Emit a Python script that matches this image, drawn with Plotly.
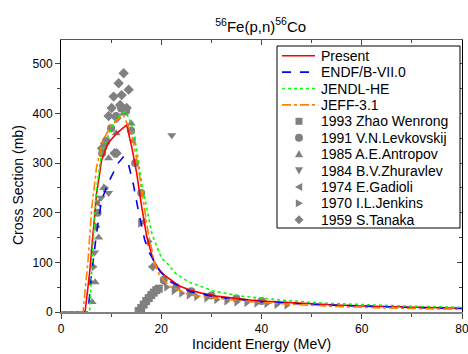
import plotly.graph_objects as go

# ---- evaluated curves ----
present_e = [0, 4.8, 5.7, 6.4, 7.1, 8.1, 9.4, 11.1, 13.1, 14.1, 15.1, 16.1, 17.1, 18.4, 19.4, 20.5, 21.8, 23.5, 25.8, 28, 31, 34, 37.8, 40, 45, 50, 55, 60, 70, 80]
present_s = [0, 0, 78, 159, 239, 306, 340, 360, 377, 333, 280, 212, 152, 105, 88, 75, 65, 53, 44, 38, 32, 28, 24, 22, 19, 16, 14, 12, 9.5, 7.5]

endf_e = [0, 5.4, 6.1, 7.1, 8.1, 9.7, 11.4, 12.4, 13.4, 14.4, 15.4, 16.7, 17.7, 19.8, 22, 25.8, 31, 38, 40, 50, 60, 70, 80]
endf_s = [0, 0, 78, 159, 226, 266, 300, 312, 300, 259, 206, 145, 118, 81, 60, 41, 30, 22, 21, 15, 11.5, 9, 7]

jendl_e = [0, 5.7, 6.3, 7.1, 8.1, 9.4, 10.8, 12.1, 12.8, 13.6, 14.4, 15.1, 16.1, 17.1, 18.1, 19.1, 20.1, 21.5, 22.6, 24.3, 25.8, 27.5, 30.5, 33.8, 36.8, 40, 45, 53, 60, 70, 80]
jendl_s = [0, 0, 120, 250, 320, 355, 385, 400, 404, 390, 367, 327, 259, 206, 159, 132, 108, 95, 80, 68, 59, 53, 42, 36, 31, 28, 23, 17.5, 14.5, 11.5, 9.5]

jeff_e = [0, 4.4, 5.4, 6.1, 7.1, 8.4, 10.1, 12.4, 14.1, 15.4, 16.4, 17.4, 18.7, 19.8, 21.8, 25.8, 31, 37.8, 45, 55, 65, 80]
jeff_s = [0, 0, 105, 206, 293, 347, 377, 397, 360, 293, 226, 159, 98, 71, 51, 34, 27.6, 21, 16, 11, 8, 5.4]

# ---- experimental data ----
zhao_e = [15.5, 16.0, 16.5, 17.0, 17.5, 18.0, 18.5, 19.0, 19.5]
zhao_s = [2, 8, 15, 22, 28, 34, 39, 44, 47]

levk_e = [7.3, 8.2, 9.0, 10.0, 11.0, 12.0, 13.0, 14.0, 14.8, 16.0, 20.5, 23, 26, 30, 35, 40]
levk_s = [200, 320, 345, 370, 395, 410, 405, 365, 300, 240, 65, 50, 42, 33, 27, 22]

antr_e = [6.2, 6.8, 7.5, 8.5, 9.5, 11.0, 12.5, 14.0]
antr_s = [20, 60, 150, 250, 310, 360, 400, 380]

zhur_e = [6.7, 8.0, 9.5, 22.1]
zhur_s = [120, 230, 240, 356]

gad_e = [7.4, 14.5, 16.5, 18.1, 20.5]
gad_s = [220, 345, 182, 91, 60]

jenk_e = [5.8, 6.5, 7.1, 8.8, 15.8, 17.5, 18.5, 21, 22.5, 24, 25.5, 27, 29, 31, 33, 35, 37, 39, 41, 43, 45]
jenk_s = [61, 91, 172, 250, 179, 142, 91, 50, 43, 38, 34, 31, 28, 25, 22, 20, 19, 18, 17, 15, 14]

tanaka_e = [12.5, 11.5, 13.5, 10.5, 12.1, 10.1, 11.8, 13.1, 11.1, 8.8, 11.1, 9.5, 8.2, 10.7]
tanaka_s = [481, 461, 448, 434, 437, 411, 417, 411, 391, 340, 320, 395, 330, 320]

x_ticks = [0, 20, 40, 60, 80]
y_ticks = [0, 100, 200, 300, 400, 500]

GRAY = "#808080"
lines = [
    ("Present", present_e, present_s, "#ff0000", "solid"),
    ("ENDF/B-VII.0", endf_e, endf_s, "#0000ff", "dash"),
    ("JENDL-HE", jendl_e, jendl_s, "#00ff00", "dot"),
    ("JEFF-3.1", jeff_e, jeff_s, "#ff8000", "dashdot"),
]
exp = [
    ("1993 Zhao Wenrong", zhao_e, zhao_s, "square"),
    ("1991 V.N.Levkovskij", levk_e, levk_s, "circle"),
    ("1985 A.E.Antropov", antr_e, antr_s, "triangle-up"),
    ("1984 B.V.Zhuravlev", zhur_e, zhur_s, "triangle-down"),
    ("1974 E.Gadioli", gad_e, gad_s, "triangle-left"),
    ("1970 I.L.Jenkins", jenk_e, jenk_s, "triangle-right"),
    ("1959 S.Tanaka", tanaka_e, tanaka_s, "diamond"),
]

fig = go.Figure()
for name, e, s, sym in exp:
    fig.add_trace(go.Scatter(x=e, y=s, mode="markers", name=name, showlegend=False,
                             marker=dict(symbol=sym, size=8, color=GRAY)))
for name, e, s, col, dash in lines:
    fig.add_trace(go.Scatter(x=e, y=s, mode="lines", name=name, showlegend=False,
                             line=dict(color=col, dash=dash, width=1.6)))

# dummy trace for mirrored axes
fig.add_trace(go.Scatter(x=[0], y=[0], xaxis="x2", yaxis="y2", mode="markers",
                         marker=dict(opacity=0), showlegend=False, hoverinfo="skip"))

# ---- hand-built legend (compact spacing like the original) ----
PL, PR, PT, PB = 61, 462, 40, 312
def fx(px):
    return (px - PL) / (PR - PL)
def fy(py):
    return (PB - py) / (PB - PT)

shapes = [dict(type="rect", xref="paper", yref="paper", x0=fx(277), x1=fx(460),
               y0=fy(228), y1=fy(46), line=dict(color="black", width=1),
               fillcolor="white", layer="above")]
annotations = []
row0, rowh = 55.7, 16.4
lx0, lx1, mx, tx = 282, 315, 299, 319
r = 4.0
LFONT = 14

def tri_path(cx, cy, d):
    if d == "up":
        pts = [(cx, cy - r), (cx - r, cy + r * 0.8), (cx + r, cy + r * 0.8)]
    elif d == "down":
        pts = [(cx, cy + r), (cx - r, cy - r * 0.8), (cx + r, cy - r * 0.8)]
    elif d == "left":
        pts = [(cx - r, cy), (cx + r * 0.8, cy - r), (cx + r * 0.8, cy + r)]
    else:
        pts = [(cx + r, cy), (cx - r * 0.8, cy - r), (cx - r * 0.8, cy + r)]
    return "M " + " L ".join(f"{fx(a)},{fy(b)}" for a, b in pts) + " Z"

row = 0
for name, _, _, col, dash in lines:
    yc = row0 + row * rowh
    shapes.append(dict(type="line", xref="paper", yref="paper", x0=fx(lx0), x1=fx(lx1),
                       y0=fy(yc), y1=fy(yc), line=dict(color=col, dash=dash, width=1.6),
                       layer="above"))
    annotations.append(dict(text=name, xref="paper", yref="paper", x=fx(tx), y=fy(yc),
                            xanchor="left", yanchor="middle", showarrow=False,
                            font=dict(size=LFONT)))
    row += 1
for name, _, _, sym in exp:
    yc = row0 + row * rowh
    if sym == "square":
        shapes.append(dict(type="rect", xref="paper", yref="paper", x0=fx(mx - 3.5), x1=fx(mx + 3.5),
                           y0=fy(yc + 3.5), y1=fy(yc - 3.5), fillcolor=GRAY, line=dict(width=0), layer="above"))
    elif sym == "circle":
        shapes.append(dict(type="circle", xref="paper", yref="paper", x0=fx(mx - 4), x1=fx(mx + 4),
                           y0=fy(yc + 4), y1=fy(yc - 4), fillcolor=GRAY, line=dict(width=0), layer="above"))
    elif sym == "diamond":
        p = f"M {fx(mx)},{fy(yc - 4.5)} L {fx(mx + 4.5)},{fy(yc)} L {fx(mx)},{fy(yc + 4.5)} L {fx(mx - 4.5)},{fy(yc)} Z"
        shapes.append(dict(type="path", xref="paper", yref="paper", path=p, fillcolor=GRAY,
                           line=dict(width=0), layer="above"))
    else:
        d = sym.split("-")[1]
        shapes.append(dict(type="path", xref="paper", yref="paper", path=tri_path(mx, yc, d),
                           fillcolor=GRAY, line=dict(width=0), layer="above"))
    annotations.append(dict(text=name, xref="paper", yref="paper", x=fx(tx), y=fy(yc),
                            xanchor="left", yanchor="middle", showarrow=False,
                            font=dict(size=LFONT)))
    row += 1

# axis titles as annotations for exact placement
annotations.append(dict(text="Incident Energy (MeV)", xref="paper", yref="paper",
                        x=fx(261.5), y=fy(344), xanchor="center", yanchor="middle",
                        showarrow=False, font=dict(size=14)))
annotations.append(dict(text="Cross Section (mb)", xref="paper", yref="paper",
                        x=fx(18), y=fy(185), xanchor="center", yanchor="middle",
                        textangle=-90, showarrow=False, font=dict(size=14)))

font = "Liberation Sans, Arial, sans-serif"
fig.update_layout(
    width=468, height=354,
    margin=dict(l=PL, r=468 - PR, t=PT, b=354 - PB, autoexpand=False),
    paper_bgcolor="white", plot_bgcolor="white",
    font=dict(family=font, size=12, color="black"),
    title=dict(text="<sup>56</sup>Fe(p,n)<sup>56</sup>Co", x=0.557, xanchor="center",
               y=0.925, yanchor="middle", font=dict(size=15)),
    showlegend=False,
    shapes=shapes,
    annotations=annotations,
    xaxis=dict(range=[0, 80], tickvals=x_ticks, ticks="outside", ticklen=5,
               minor=dict(ticks="outside", dtick=10, ticklen=3, tick0=0),
               showline=True, linecolor="#808080", linewidth=2, showgrid=False, zeroline=False,
               ticklabeloverflow="allow", automargin=False,
               tickfont=dict(size=12)),
    yaxis=dict(range=[0, 548], tickvals=y_ticks, ticks="outside", ticklen=5,
               minor=dict(ticks="outside", dtick=50, ticklen=3, tick0=0),
               showline=True, linecolor="black", linewidth=1, showgrid=False, zeroline=False,
               automargin=False,
               tickfont=dict(size=12)),
    xaxis2=dict(range=[0, 80], overlaying="x", side="top", anchor="y", tickvals=x_ticks,
                ticks="inside", ticklen=5, showticklabels=False, automargin=False,
                minor=dict(ticks="inside", dtick=10, ticklen=3, tick0=0),
                showline=True, linecolor="#555555", linewidth=1, showgrid=False, zeroline=False),
    yaxis2=dict(range=[0, 548], overlaying="y", side="right", anchor="x", tickvals=y_ticks,
                ticks="inside", ticklen=5, showticklabels=False, automargin=False,
                minor=dict(ticks="inside", dtick=50, ticklen=3, tick0=0),
                showline=True, linecolor="black", linewidth=1, showgrid=False, zeroline=False),
)

fig.write_html("out.html")
